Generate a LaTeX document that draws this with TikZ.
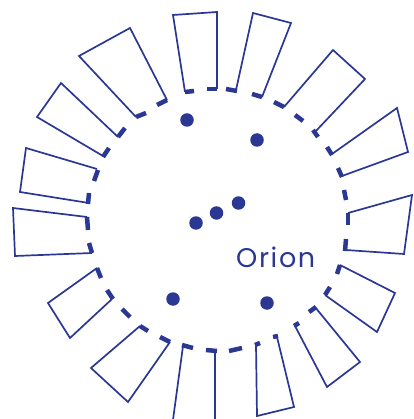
\documentclass[tikz,border=0pt]{standalone}
\usepackage{fontspec}
\newfontfamily\orionfont[LetterSpace=6]{Poppins}
\definecolor{orblue}{RGB}{42,56,148}
\begin{document}
\begin{tikzpicture}[x=1pt,y=-1pt,
  petal/.style={draw=orblue,line width=1.7pt,line join=miter},
  dashseg/.style={draw=orblue,line width=4.5pt},
  star/.style={circle,fill=orblue,inner sep=0pt,minimum size=13.5pt},
  lbl/.style={text=orblue,font=\orionfont\fontsize{27}{30}\selectfont,inner sep=0pt}]
\useasboundingbox (0,0) rectangle (413,419);
% dashes of the circle
\foreach \xa/\ya/\xb/\yb [count=\i] in {
  207/89/217/89, 226/89/237/91, 252/94/262/97,
  274/102/284/107, 295/115/303/121, 313/130/318/137,
  327/147/332/155, 338/168/342/177, 344/190/346/200,
  348/213/348/225, 346/239/345/251, 340/265/337/274,
  330/287/325/295, 316/307/309/312, 299/323/294/326,
  278/336/273/337, 260/343/255/345, 242/348/229/351,
  217/351/206/350, 193/348/182/345, 170/342/160/337,
  148/331/140/326, 130/317/122/309, 113/299/107/290,
  101/278/97/268, 92/253/89/243, 88/230/87/217,
  88/204/89/193, 94/181/98/170, 103/157/109/148,
  118/137/125/128, 136/117/146/113, 157/105/167/100,
  185/92/194/91}
{
  \draw[dashseg] (\xa,\ya) coordinate (da\i) -- (\xb,\yb) coordinate (db\i);
}
% petals
\foreach \ax/\ay/\bx/\by/\cx/\cy/\dx/\dy [count=\i] in {
  185/92/173/15/217/12/217/89,
  236/90/253/13/291/23/262/97,
  284/107/333/50/365/79/315/132,
  332/154/397/108/408/152/342/176,
  348/213/412/195/404/254/346/250,
  340/265/395/293/377/332/325/295,
  315/307/360/362/327/387/295/326,
  277/337/294/407/257/416/256/345,
  215/351/215/430/171.6/430/183/346,
  170/342/128/402/91/368/140/326,
  112/299/70/338/48/303/97/268,
  92/253/15/256/13/208/87/217,
  89/203/20/192/26/148/97/169,
  103/156/37/117/61/83/118/137,
  136/117/79/56/130/28/167/100}
{
  \draw[petal] (\ax,\ay) coordinate (pa\i) -- (\bx,\by) coordinate (pb\i)
    -- (\cx,\cy) coordinate (pc\i) -- (\dx,\dy) coordinate (pd\i);
}
% stars
\node[star] (s1) at (187,120) {};
\node[star] (s2) at (257,140) {};
\node[star] (s3) at (196,223) {};
\node[star] (s4) at (216.5,213) {};
\node[star] (s5) at (238.5,203) {};
\node[star] (s6) at (173,299) {};
\node[star] (s7) at (267,303) {};
% label
\node[lbl,anchor=base west] (orion) at (236,267.5) {Orion};
\end{tikzpicture}
\end{document}
